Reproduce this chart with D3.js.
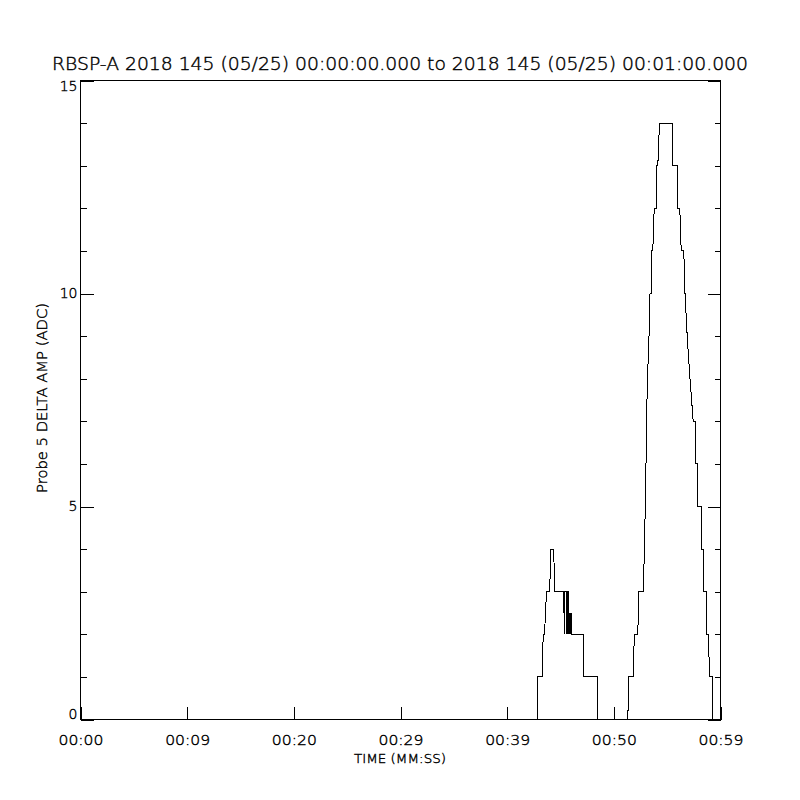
<!DOCTYPE html>
<html>
<head>
<meta charset="utf-8">
<script src="https://cdn.jsdelivr.net/npm/d3@7"></script>
<style>
  html, body { margin: 0; padding: 0; background: #fff; }
  svg { display: block; }
  text { font-family: "DejaVu Sans", "Liberation Sans", Arial, sans-serif; font-weight: 200; fill: #000; stroke: #000; stroke-width: 0.4px; }
</style>
</head>
<body>
<svg id="chart" width="800" height="800"></svg>
<script>
// ---- data ----
const titleText = "RBSP-A 2018 145 (05/25) 00:00:00.000 to 2018 145 (05/25) 00:01:00.000";
const xAxisTitle = "TIME (MM:SS)";
const yAxisTitle = "Probe 5 DELTA AMP (ADC)";

const xTickValues = [0, 10, 20, 30, 40, 50, 60];
const xTickLabels = ["00:00", "00:09", "00:20", "00:29", "00:39", "00:50", "00:59"];
const yMajorTicks = [0, 5, 10, 15];
const yMinorTicks = [1, 2, 3, 4, 6, 7, 8, 9, 11, 12, 13, 14];

// seconds after 00:00:00
const sampleTimes = [
  0, 42.816, 42.816, 43.284, 43.378, 43.500, 43.688, 43.997, 44.063, 44.372, 44.438,
  45.253, 45.281, 45.309, 45.338, 45.366, 45.375, 45.394, 45.525, 45.534, 45.553,
  45.647, 45.656, 45.675, 45.769, 45.778, 45.816, 45.863, 45.909, 45.956, 46.003,
  46.050, 46.097, 47.184, 47.184, 48.497, 48.497,
  51.309, 51.403, 51.872, 51.900, 52.247, 52.341, 52.781, 52.856, 52.950, 53.016,
  53.063, 53.156, 53.297, 53.391, 53.531, 53.559, 53.653, 53.784, 53.972, 54.047,
  54.122, 54.281, 55.472, 55.519, 55.997, 56.016, 56.184, 56.316, 56.559, 56.672,
  56.878, 57.141, 57.441, 57.637, 57.656, 57.853, 57.872, 58.209, 58.228, 58.425,
  58.444, 58.650, 58.669, 58.838, 58.997, 59.222, 59.231, 60
];
// ADC counts
const sampleValues = [
  0, 0, 1, 1, 2, 2, 3, 3, 4, 4, 3,
  3, 2.5, 3, 2.5, 3, 2, 3, 3, 2, 3,
  3, 2, 3, 3, 2, 2.5, 2, 2.5, 2, 2.5,
  2, 2, 2, 1, 1, 0,
  0, 1, 1, 2, 2, 3, 3, 4, 5, 6,
  7, 8, 9, 10, 10, 11, 11, 12, 12, 13,
  13, 14, 14, 13, 13, 12, 12, 11, 11, 10,
  9, 8, 7, 7, 6, 6, 5, 5, 4, 4,
  3, 3, 2, 2, 1, 1, 0, 0
];

// ---- layout ----
const svg = d3.select("#chart");
const plotL = 80, plotR = 720, plotT = 80, plotB = 719;
const fontFam = "DejaVu Sans, Liberation Sans, Arial, sans-serif";

const x = d3.scaleLinear().domain([0, 60]).range([plotL, plotR]);
const y = d3.scaleLinear().domain([0, 15]).range([plotB, plotT]);

// title
svg.append("text")
  .attr("x", 400).attr("y", 70)
  .attr("text-anchor", "middle")
  .attr("font-size", 17)
  .attr("textLength", 696)
  .attr("lengthAdjust", "spacingAndGlyphs")
  .text(titleText);

// frame
svg.append("rect")
  .attr("x", plotL + 0.5).attr("y", plotT + 0.5)
  .attr("width", plotR - plotL).attr("height", plotB - plotT)
  .attr("fill", "none").attr("stroke", "#000").attr("stroke-width", 1)
  .attr("shape-rendering", "crispEdges");

function styleAxis(g) {
  g.select(".domain").remove();
  g.selectAll("line").attr("stroke", "#000").attr("shape-rendering", "crispEdges");
  g.selectAll("text").attr("fill", "#000").attr("font-family", fontFam).attr("font-weight", 200);
}

// left y axis (major with labels)
const gLeft = svg.append("g").attr("transform", `translate(${plotL + 0.5},0.5)`)
  .call(d3.axisLeft(y).tickValues(yMajorTicks).tickSize(-13).tickPadding(3)
    .tickFormat(d3.format("d")));
styleAxis(gLeft);
gLeft.selectAll("text")
  .attr("font-size", 14)
  .attr("dy", d => d === 15 ? "0.72em" : d === 0 ? "-0.08em" : "0.32em");

// left minor ticks
const gLeftMinor = svg.append("g").attr("transform", `translate(${plotL + 0.5},0.5)`)
  .call(d3.axisLeft(y).tickValues(yMinorTicks).tickSize(-6).tickFormat(""));
styleAxis(gLeftMinor);

// right axis
const gRight = svg.append("g").attr("transform", `translate(${plotR + 0.5},0.5)`)
  .call(d3.axisRight(y).tickValues(yMajorTicks).tickSize(-13).tickFormat(""));
styleAxis(gRight);
const gRightMinor = svg.append("g").attr("transform", `translate(${plotR + 0.5},0.5)`)
  .call(d3.axisRight(y).tickValues(yMinorTicks).tickSize(-6).tickFormat(""));
styleAxis(gRightMinor);

// bottom axis
const gBottom = svg.append("g").attr("transform", `translate(0.5,${plotB + 0.5})`)
  .call(d3.axisBottom(x).tickValues(xTickValues).tickSize(-13).tickPadding(16)
    .tickFormat((d, i) => xTickLabels[i]));
styleAxis(gBottom);
gBottom.selectAll("text")
  .attr("font-size", 14)
  .attr("textLength", 45)
  .attr("lengthAdjust", "spacingAndGlyphs");

// axis titles
svg.append("text")
  .attr("x", 400).attr("y", 763)
  .attr("text-anchor", "middle")
  .attr("font-size", 13)
  .attr("textLength", 92)
  .attr("lengthAdjust", "spacingAndGlyphs")
  .text(xAxisTitle);

svg.append("text")
  .attr("transform", "translate(47,398) rotate(-90)")
  .attr("text-anchor", "middle")
  .attr("font-size", 14)
  .attr("textLength", 190)
  .attr("lengthAdjust", "spacingAndGlyphs")
  .text(yAxisTitle);

// data line
const points = sampleTimes.map((t, i) => [t, sampleValues[i]]);
const line = d3.line().x(d => x(d[0]) + 0.5).y(d => y(d[1]) + 0.5);
svg.append("path")
  .datum(points)
  .attr("d", line)
  .attr("fill", "none")
  .attr("stroke", "#000")
  .attr("stroke-width", 1)
  .attr("shape-rendering", "crispEdges");
</script>
</body>
</html>
